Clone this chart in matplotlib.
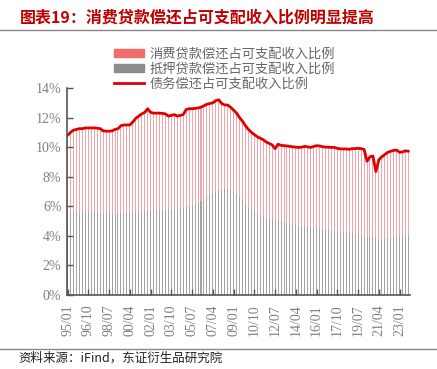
import matplotlib.pyplot as plt
import numpy as np
from matplotlib.patches import Patch
from matplotlib.lines import Line2D

plt.rcParams['font.family'] = ['Noto Sans CJK SC', 'DejaVu Sans']

# quarterly, 1995Q1 .. 2023Q4
total = [10.80, 11.00, 11.15, 11.20, 11.25, 11.25, 11.30, 11.30, 11.30, 11.30,
         11.28, 11.25, 11.10, 11.08, 11.08, 11.10, 11.20, 11.25, 11.45, 11.50,
         11.50, 11.50, 11.70, 11.95, 12.10, 12.25, 12.35, 12.60, 12.35, 12.30,
         12.30, 12.30, 12.28, 12.25, 12.10, 12.15, 12.20, 12.10, 12.15, 12.20,
         12.55, 12.60, 12.60, 12.62, 12.65, 12.70, 12.80, 12.90, 12.95, 13.00,
         13.15, 13.20, 12.95, 12.85, 12.85, 12.70, 12.50, 12.30, 12.00, 11.75,
         11.45, 11.20, 11.00, 10.85, 10.70, 10.60, 10.50, 10.35, 10.25, 10.15,
         9.90, 10.20, 10.12, 10.10, 10.08, 10.05, 10.02, 10.00, 9.98, 10.00,
         10.05, 10.02, 9.98, 10.05, 10.10, 10.08, 10.03, 10.00, 10.00, 9.98,
         9.98, 9.92, 9.88, 9.88, 9.88, 9.85, 9.90, 9.90, 9.92, 9.90,
         9.85, 9.05, 9.35, 9.40, 8.35, 9.15, 9.35, 9.50, 9.65, 9.72,
         9.78, 9.80, 9.65, 9.68, 9.75, 9.72]

mortgage = [5.70, 5.68, 5.66, 5.65, 5.64, 5.63, 5.62, 5.62, 5.61, 5.60,
            5.58, 5.57, 5.55, 5.54, 5.52, 5.50, 5.50, 5.50, 5.52, 5.54,
            5.55, 5.56, 5.58, 5.60, 5.62, 5.64, 5.66, 5.68, 5.70, 5.72,
            5.74, 5.76, 5.78, 5.80, 5.80, 5.82, 5.84, 5.85, 5.86, 5.88,
            5.92, 5.98, 6.05, 6.15, 6.25, 6.38, 6.50, 6.65, 6.80, 6.92,
            7.05, 7.12, 7.20, 7.22, 7.20, 7.12, 7.00, 6.85, 6.62, 6.40,
            6.20, 5.98, 5.82, 5.68, 5.55, 5.42, 5.32, 5.22, 5.15, 5.12,
            5.10, 5.05, 5.00, 4.95, 4.90, 4.85, 4.80, 4.76, 4.72, 4.68,
            4.64, 4.60, 4.57, 4.54, 4.51, 4.48, 4.45, 4.42, 4.39, 4.36,
            4.33, 4.30, 4.28, 4.26, 4.24, 4.21, 4.18, 4.15, 4.12, 4.08,
            4.02, 3.95, 3.92, 3.90, 3.85, 3.82, 3.80, 3.82, 3.85, 3.88,
            3.92, 3.95, 3.98, 4.00, 4.02, 4.03]

tick_labels = ['95/01', '96/10', '98/07', '00/04', '02/01', '03/10', '05/07', '07/04',
               '09/01', '10/10', '12/07', '14/04', '16/01', '17/10', '19/07', '21/04',
               '23/01']

total = np.array(total)
mortgage = np.array(mortgage)
consumer = total - mortgage
x = np.arange(len(total))

fig = plt.figure(figsize=(4.37, 3.69), dpi=100)
ax = fig.add_axes([67/437, 1-295/369, (410-67)/437, (295-88)/369])

ax.bar(x, mortgage, width=0.34, color='#a2a2a2', linewidth=0, antialiased=False)
ax.bar(x, consumer, bottom=mortgage, width=0.34, color='#f3a4a8', linewidth=0,
       antialiased=False)
ax.plot(x, total, color='#e00000', lw=2.0, solid_capstyle='round')

ax.set_xlim(-0.2, 115.5)
ax.set_ylim(0, 14)
ax.set_yticks(range(0, 15, 2))
ax.set_yticklabels([f'{v}%' for v in range(0, 15, 2)], family='Liberation Serif',
                   fontsize=10, color='#808080')
ax.set_xticks(np.arange(0, 113, 7))
ax.set_xticklabels(tick_labels, rotation=90, family='Liberation Serif',
                   fontsize=10, color='#808080')
ax.tick_params(axis='both', direction='in', length=4, color='#555555', width=1)
ax.tick_params(axis='x', pad=7)
ax.tick_params(axis='y', pad=4)
for s in ['top', 'right']:
    ax.spines[s].set_visible(False)
for s in ['left', 'bottom']:
    ax.spines[s].set_color('#555555')
    ax.spines[s].set_linewidth(1.2)

handles = [Patch(color='#f26b6b'), Patch(color='#8c8c8c'),
           Line2D([], [], color='#e00000', lw=2)]
labels = ['消费贷款偿还占可支配收入比例', '抵押贷款偿还占可支配收入比例', '债务偿还占可支配收入比例']
fig.legend(handles, labels, loc='upper left', bbox_to_anchor=(102/437, 1-36/369),
           frameon=False, fontsize=9.5, handlelength=2.3, handleheight=0.6,
           handletextpad=0.4, labelspacing=0.15, labelcolor='#666666')

fig.text(20/437, 1-18/369, '图表19：消费贷款偿还占可支配收入比例明显提高',
         color='#c00000', fontsize=11.5, fontweight='bold', va='center', ha='left')
fig.text(18/437, 1-358/369, '资料来源：iFind，东证衍生品研究院',
         color='#222222', fontsize=9, va='center', ha='left')
fig.add_artist(Line2D([0, 1], [1-30/369, 1-30/369], color='#888888', lw=1))
fig.add_artist(Line2D([0, 1], [1-349/369, 1-349/369], color='#888888', lw=1))

fig.savefig('out.png', dpi=100, facecolor='white')
